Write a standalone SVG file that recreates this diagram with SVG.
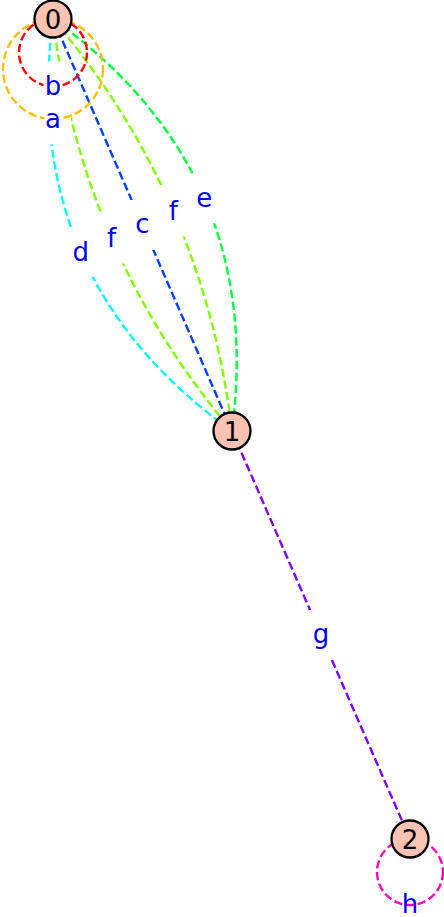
<svg xmlns="http://www.w3.org/2000/svg" width="444" height="917" viewBox="0 0 444 917">
<style>
.e{fill:none;stroke-width:2.4;stroke-dasharray:8.3 3.6}
.box{fill:#ffffff}
.lbl{font-family:"DejaVu Sans",sans-serif;font-size:26px;fill:#0000ff;text-anchor:middle}
.node circle{fill:#fcc2b2;stroke:#000000;stroke-width:2.3}
.node text{font-family:"DejaVu Sans",sans-serif;font-size:26px;fill:#000000;text-anchor:middle}
</style>
<rect width="444" height="917" fill="#ffffff"/>
<g id="connectors">
  <path id="edge-c" class="e" stroke="#0040ff" d="M53,19 L232,431"/>
  <path id="edge-d" class="e" stroke="#00ffff" d="M53,19 Q18.9,278.7 232,431"/>
  <path id="edge-f1" class="e" stroke="#80ff00" d="M53,19 Q80.7,251.8 232,431"/>
  <path id="edge-f2" class="e" stroke="#80ff00" d="M53,19 Q204.3,198.2 232,431"/>
  <path id="edge-e" class="e" stroke="#00ff40" d="M53,19 Q266.1,171.3 232,431"/>
  <path id="edge-g" class="e" stroke="#8000ff" d="M232,431 L410,839"/>
  <g id="label-boxes">
    <rect class="box" x="124.5" y="200" width="36" height="50" rx="6"/>
    <rect class="box" x="62.7" y="226.9" width="36" height="50" rx="6"/>
    <rect class="box" x="93.6" y="213.4" width="36" height="50" rx="6"/>
    <rect class="box" x="155.4" y="186.6" width="36" height="50" rx="6"/>
    <rect class="box" x="186.3" y="173.2" width="36" height="50" rx="6"/>
    <rect class="box" x="303" y="610" width="36" height="50" rx="6"/>
    <rect class="box" x="35" y="94.5" width="36" height="50" rx="6"/>
    <rect class="box" x="35" y="61.5" width="36" height="50" rx="6"/>
  </g>
  <circle id="edge-a" class="e" stroke="#ffbf00" cx="53" cy="69" r="50"/>
  <circle id="edge-b" class="e" stroke="#ff0000" cx="53" cy="52.5" r="34"/>
  <circle id="edge-h" class="e" stroke="#ff00bf" cx="410" cy="872" r="33"/>
  <rect class="box" x="44.5" y="108" width="18" height="23"/>
  <rect class="box" x="43.5" y="70" width="19" height="27"/>
  <g id="edge-labels">
    <text class="lbl" x="53" y="128">a</text>
    <text class="lbl" x="53" y="95">b</text>
    <text class="lbl" x="142.5" y="233">c</text>
    <text class="lbl" x="80.7" y="260.5">d</text>
    <text class="lbl" x="204.3" y="206.5">e</text>
    <text class="lbl" x="111.6" y="246.7">f</text>
    <text class="lbl" x="173.4" y="220">f</text>
    <text class="lbl" x="321" y="643">g</text>
    <text class="lbl" x="410" y="913">h</text>
  </g>
</g>
<g id="node-0" class="node"><circle cx="53" cy="19" r="18.5"/><text x="53" y="28.5">0</text></g>
<g id="node-1" class="node"><circle cx="232" cy="431" r="18.5"/><text x="232" y="440.5">1</text></g>
<g id="node-2" class="node"><circle cx="410" cy="839" r="18.5"/><text x="410" y="848.5">2</text></g>
</svg>
